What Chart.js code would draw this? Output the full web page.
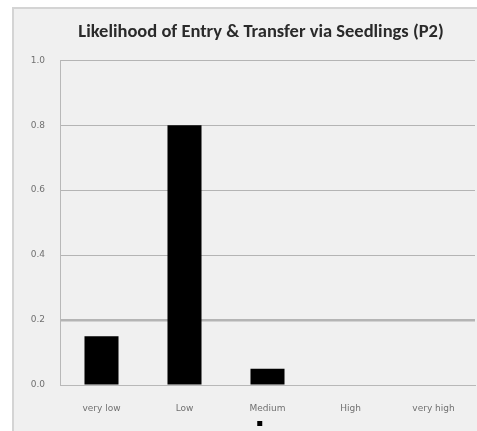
<!DOCTYPE html>
<html>
<head>
<meta charset="utf-8">
<script src="https://cdn.jsdelivr.net/npm/chart.js@4.4.1/dist/chart.umd.min.js"></script>
<style>
  html, body { margin: 0; padding: 0; background: #ffffff; overflow: hidden; }
  #frame {
    position: absolute; left: 12px; top: 7px;
    width: 500px; height: 440px;
    background: #f0f0f0;
    border: 2px solid #d4d4d4;
    box-sizing: border-box;
  }
  #wrap { position: absolute; left: 0px; top: 0px; width: 484px; height: 427px; }
</style>
</head>
<body>
<div id="frame"><div id="wrap"><canvas id="c"></canvas></div></div>
<script>
const categories = ["very low", "Low", "Medium", "High", "very high"];
const likelihood = [0.15, 0.8, 0.05, 0, 0];
const yTicks = [0.0, 0.2, 0.4, 0.6, 0.8, 1.0];

const tickFont = { family: "'DejaVu Sans', sans-serif", size: 9 };

new Chart(document.getElementById("c"), {
  type: "bar",
  data: {
    labels: categories,
    datasets: [{
      label: "",
      data: likelihood,
      backgroundColor: "#000000",
      borderWidth: 0,
      categoryPercentage: 1.0,
      barPercentage: 0.41
    }]
  },
  options: {
    responsive: true,
    maintainAspectRatio: false,
    animation: false,
    layout: { padding: { left: 10, right: 0, top: 0, bottom: 0 } },
    plugins: {
      title: {
        display: true,
        text: "Likelihood of Entry & Transfer via Seedlings (P2)",
        color: "#2a2a2a",
        font: { family: "Carlito, 'Liberation Sans', 'DejaVu Sans', sans-serif", size: 18.5, weight: "bold" },
        padding: { top: 12, bottom: 17 }
      },
      legend: {
        display: true,
        position: "bottom",
        labels: {
          boxWidth: 5, boxHeight: 5, padding: 0,
          font: { size: 5 },
          color: "#666"
        }
      },
      tooltip: { enabled: false }
    },
    scales: {
      x: {
        grid: { display: false, drawTicks: false },
        border: { display: true, color: "#b8b8b8", width: 1 },
        afterFit: (axis) => { axis.height = 36; },
        ticks: {
          color: "#707070",
          padding: 18,
          font: tickFont
        }
      },
      y: {
        min: 0, max: 1,
        afterBuildTicks: (axis) => { axis.ticks = yTicks.map(v => ({ value: v })); },
        afterFit: (axis) => { axis.width = 36; },
        grid: {
          color: "#b4b4b4",
          lineWidth: (ctx) => (ctx.tick && ctx.tick.value === 0.2 ? 2.5 : 1),
          drawTicks: false
        },
        border: { display: true, color: "#b8b8b8", width: 1 },
        ticks: {
          color: "#707070",
          padding: 15,
          font: tickFont,
          callback: (v) => Number(v).toFixed(1)
        }
      },
      // empty right-hand margin so the title centres over the whole frame
      yPad: {
        type: "linear",
        position: "right",
        display: true,
        grid: { display: false, drawTicks: false },
        border: { display: false },
        ticks: { display: false },
        afterFit: (axis) => { axis.width = 23; }
      }
    }
  }
});
</script>
</body>
</html>
